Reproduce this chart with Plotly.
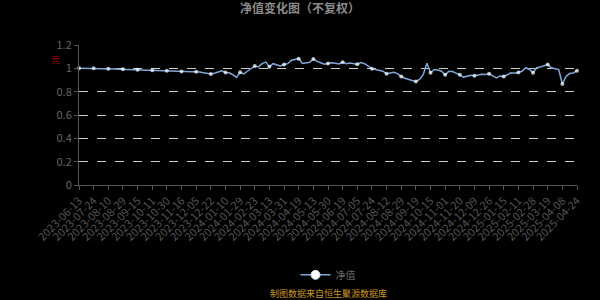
import plotly.graph_objects as go

tick_dates = ["2023-06-13", "2023-07-24", "2023-08-10", "2023-08-29", "2023-09-15",
              "2023-10-11", "2023-10-30", "2023-11-16", "2023-12-05", "2023-12-22",
              "2024-01-10", "2024-01-29", "2024-02-23", "2024-03-13", "2024-03-31",
              "2024-04-19", "2024-05-13", "2024-05-30", "2024-06-19", "2024-07-05",
              "2024-07-24", "2024-08-12", "2024-08-29", "2024-09-19", "2024-10-15",
              "2024-11-01", "2024-11-20", "2024-12-09", "2024-12-26", "2025-01-15",
              "2025-02-11", "2025-02-28", "2025-03-19", "2025-04-08", "2025-04-24"]

# net value, 4 samples per tick interval (tick dates every 4th sample)
nav = [
    1.000, 1.000, 1.001, 1.000,
    1.000, 0.999, 1.000, 0.998,
    0.997, 0.996, 0.995, 0.993,
    0.992, 0.991, 0.990, 0.988,
    0.987, 0.986, 0.985, 0.984,
    0.983, 0.982, 0.981, 0.980,
    0.980, 0.978, 0.976, 0.974,
    0.973, 0.972, 0.973, 0.971,
    0.970, 0.968, 0.963, 0.957,
    0.952, 0.958, 0.967, 0.978,
    0.965, 0.962, 0.945, 0.922,
    0.966, 0.953, 0.975, 0.995,
    1.020, 1.012, 1.040, 1.053,
    1.014, 1.040, 1.030, 1.020,
    1.033, 1.040, 1.070, 1.078,
    1.083, 1.042, 1.048, 1.052,
    1.080, 1.060, 1.048, 1.036,
    1.042, 1.048, 1.043, 1.038,
    1.053, 1.040, 1.045, 1.038,
    1.035, 1.050, 1.040, 1.020,
    0.997, 0.990, 0.980, 0.975,
    0.953, 0.960, 0.967, 0.955,
    0.930, 0.915, 0.903, 0.895,
    0.888, 0.905, 0.945, 1.043,
    0.962, 0.990, 0.985, 0.975,
    0.944, 0.975, 0.972, 0.960,
    0.944, 0.925, 0.935, 0.940,
    0.937, 0.945, 0.950, 0.948,
    0.953, 0.935, 0.918, 0.935,
    0.930, 0.945, 0.962, 0.958,
    0.965, 0.975, 1.005, 0.990,
    0.963, 1.005, 1.012, 1.020,
    1.032, 1.005, 0.998, 0.990,
    0.866, 0.930, 0.955, 0.960,
    0.980,
]

step = 4
xs = list(range(len(nav)))
sizes = [4 if i % step == 0 else 0 for i in xs]
line_color = "#7fa8d8"

fig = go.Figure()
fig.add_trace(go.Scatter(
    x=xs, y=nav, mode="lines+markers", name="净值", showlegend=False,
    legendgroup="nav",
    line=dict(color=line_color, width=1.5),
    marker=dict(color="#ffffff", size=sizes, line=dict(width=0)),
    cliponaxis=False,
))
# legend entry
fig.add_trace(go.Scatter(
    x=[None], y=[None], mode="lines+markers", name="净值", legendgroup="nav",
    line=dict(color=line_color, width=1.5),
    marker=dict(color="#ffffff", size=9, line=dict(width=1, color="#cfe0f5")),
))

fig.update_layout(
    width=600, height=300,
    paper_bgcolor="#000000", plot_bgcolor="#000000",
    margin=dict(l=79, r=23, t=45, b=114),
    font=dict(family="Noto Sans CJK SC, Noto Sans, sans-serif", color="#666666"),
    title=dict(text="<b>净值变化图（不复权）</b>", x=0.5, xanchor="center",
               y=1 - 9 / 300, yanchor="middle",
               font=dict(size=12, color="#8a8a8a")),
    showlegend=True,
    legend=dict(orientation="h", x=0.5, xanchor="center", y=-0.63, yanchor="middle",
                font=dict(size=10, color="#666666"),
                bgcolor="rgba(0,0,0,0)"),
    xaxis=dict(
        range=[0, len(nav) - 1],
        tickmode="array",
        tickvals=[i * step for i in range(len(tick_dates))],
        ticktext=tick_dates,
        tickangle=-45,
        tickfont=dict(size=11, color="#555555"),
        showgrid=False, zeroline=False,
        showline=True, linecolor="#555555", linewidth=1,
        ticks="outside", ticklen=4, tickcolor="#555555",
    ),
    yaxis=dict(
        range=[0, 1.2], tickmode="array",
        tickvals=[0, 0.2, 0.4, 0.6, 0.8, 1.0, 1.2],
        ticktext=["0", "0.2", "0.4", "0.6", "0.8", "1", "1.2"],
        tickfont=dict(size=11, color="#666666"),
        showgrid=True, gridcolor="#cccccc", griddash="dash", gridwidth=1,
        zeroline=False,
        showline=True, linecolor="#555555", linewidth=1,
        ticks="outside", ticklen=4, tickcolor="#555555",
    ),
    annotations=[
        dict(text="元", x=-0.048, y=0.894, xref="paper", yref="paper",
             xanchor="center", yanchor="middle",
             showarrow=False, font=dict(size=9, color="#a00000")),
        dict(text="制图数据来自恒生聚源数据库", x=0.5, y=-0.775, xref="paper", yref="paper",
             xanchor="center", yanchor="middle", showarrow=False,
             font=dict(size=9, color="#c8952a")),
    ],
)

fig.write_html("out.html")
